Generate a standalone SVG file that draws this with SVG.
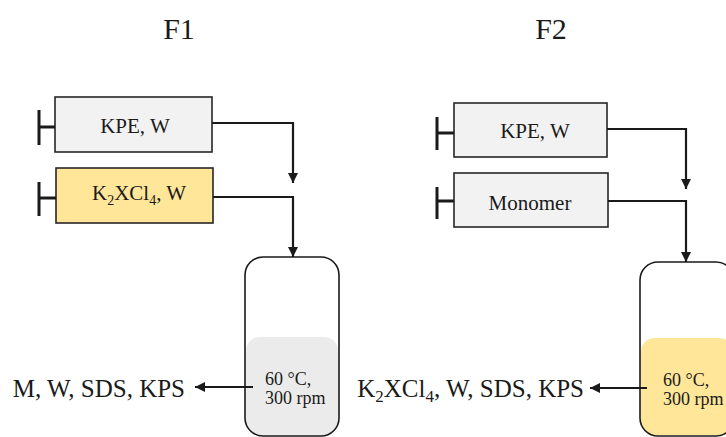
<svg xmlns="http://www.w3.org/2000/svg" width="726" height="437" viewBox="0 0 726 437">
<defs>
<style>
text{font-family:"Liberation Serif","Times New Roman",serif;fill:#1a1a1a}
.title{font-size:30px;text-anchor:middle}
.lbl{font-size:21px}
.out{font-size:25px;text-anchor:end}
.cond{font-size:18px}
.box{stroke:#262626;stroke-width:1.6}
.gray{fill:#f2f2f2}
.yel{fill:#ffe699}
.plg{fill:none;stroke:#1a1a1a;stroke-width:3}
.conn{fill:none;stroke:#1a1a1a;stroke-width:2.2}
.vessel{fill:none;stroke:#1a1a1a;stroke-width:1.6}
</style>
<marker id="ah" viewBox="0 0 10 10" refX="10" refY="5" markerWidth="10" markerHeight="10" markerUnits="userSpaceOnUse" orient="auto">
<path d="M0,0 L10,5 L0,10 z" fill="#1a1a1a"/>
</marker>
</defs>
<rect width="726" height="437" fill="#ffffff"/>
<text class="title" x="179" y="39">F1</text>
<text class="title" x="551" y="39">F2</text>

<g id="f1-syringe1">
<rect class="box gray" x="55" y="97" width="157" height="55"/>
<path class="plg" d="M39,110 V145 M39,127 H55"/>
<text class="lbl" x="135" y="133" text-anchor="middle">KPE, W</text>
</g>
<g id="f1-syringe2">
<rect class="box yel" x="56" y="168" width="157" height="55"/>
<path class="plg" d="M39,182 V216 M39,198 H56"/>
<text class="lbl" x="92" y="200">K<tspan font-size="14" dy="5">2</tspan><tspan dy="-5">XCl</tspan><tspan font-size="14" dy="5">4</tspan><tspan dy="-5">, W</tspan></text>
</g>
<g id="f1-vessel">
<rect x="246" y="337" width="92" height="98" rx="14" fill="#ebebeb"/>
<rect class="vessel" x="245" y="257" width="94" height="179" rx="18"/>
<text class="cond" x="265" y="385">60 °C,</text>
<text class="cond" x="265" y="404">300 rpm</text>
</g>
<g id="f1-output">
<text class="out" x="185" y="397">M, W, SDS, KPS</text>
</g>

<g id="f2-syringe1">
<rect class="box gray" x="454" y="103" width="153" height="54"/>
<path class="plg" d="M437,117 V150 M437,133 H454"/>
<text class="lbl" x="535" y="138" text-anchor="middle">KPE, W</text>
</g>
<g id="f2-syringe2">
<rect class="box gray" x="454" y="173" width="154" height="54"/>
<path class="plg" d="M437,187 V219 M437,201 H454"/>
<text class="lbl" x="530" y="210" text-anchor="middle">Monomer</text>
</g>
<g id="f2-vessel">
<rect x="641" y="338" width="92" height="97" rx="14" fill="#ffe699"/>
<rect class="vessel" x="640" y="262" width="94" height="174" rx="18"/>
<text class="cond" x="663" y="386">60 °C,</text>
<text class="cond" x="663" y="405">300 rpm</text>
</g>
<g id="f2-output">
<text class="out" x="584" y="397">K<tspan font-size="17" dy="5">2</tspan><tspan dy="-5">XCl</tspan><tspan font-size="17" dy="5">4</tspan><tspan dy="-5">, W, SDS, KPS</tspan></text>
</g>

<g id="connectors">
<path class="conn" d="M212,123 H293 V183" marker-end="url(#ah)"/>
<path class="conn" d="M213,197 H293 V257" marker-end="url(#ah)"/>
<path class="conn" d="M607,129 H686 V189" marker-end="url(#ah)"/>
<path class="conn" d="M608,201 H686 V262" marker-end="url(#ah)"/>
<path class="conn" d="M253,387 H195" marker-end="url(#ah)"/>
<path class="conn" d="M647,388 H590" marker-end="url(#ah)"/>
</g>
</svg>
